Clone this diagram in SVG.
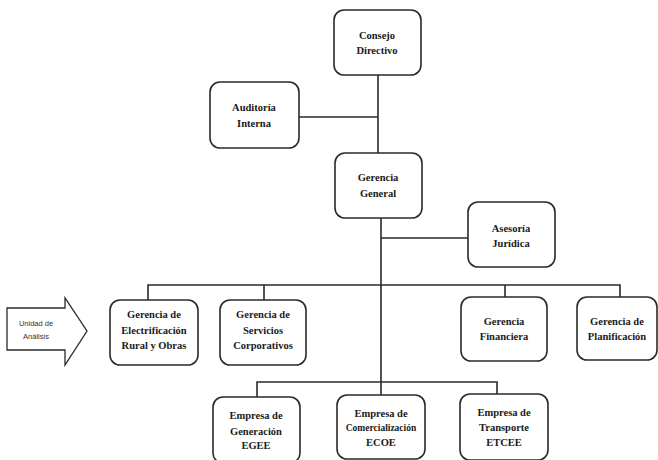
<svg xmlns="http://www.w3.org/2000/svg" width="658" height="460" viewBox="0 0 658 460">
<style>
.box{fill:#fff;stroke:#2a2a2a;stroke-width:1.6}
.ln{fill:none;stroke:#2a2a2a;stroke-width:1.6}
.t{font-family:'Liberation Serif','Times New Roman','DejaVu Serif',serif;font-size:10.5px;font-weight:bold;fill:#1a1a1a;text-anchor:middle}
.s{font-family:'Liberation Sans',Arial,sans-serif;font-size:7.5px;fill:#333;text-anchor:middle}
</style>
<rect width="658" height="460" fill="#fff"/>
<g id="connectors">
<path class="ln" d="M378 75V153M299 117H378"/>
<path class="ln" d="M381 218V382M381 238H468"/>
<path class="ln" d="M148 300V285H620V297M264 285V300M505 285V297"/>
<path class="ln" d="M257 397V382H497V394M381 382V395"/>
</g>
<g id="consejo"><rect class="box" x="334" y="10" width="87" height="65" rx="10"/>
<text class="t" x="377" y="39">Consejo</text><text class="t" x="377" y="54">Directivo</text></g>
<g id="auditoria"><rect class="box" x="210" y="82" width="89" height="66" rx="10"/>
<text class="t" x="254" y="111">Auditoría</text><text class="t" x="254" y="127">Interna</text></g>
<g id="gerencia-general"><rect class="box" x="335" y="153" width="87" height="65" rx="10"/>
<text class="t" x="378" y="181">Gerencia</text><text class="t" x="378" y="197">General</text></g>
<g id="asesoria"><rect class="box" x="468" y="202" width="87" height="65" rx="10"/>
<text class="t" x="511" y="232">Asesoría</text><text class="t" x="511" y="247">Jurídica</text></g>
<g id="electrificacion"><rect class="box" x="110" y="300" width="88" height="65" rx="10"/>
<text class="t" x="154" y="318">Gerencia de</text><text class="t" x="154" y="334">Electrificación</text><text class="t" x="154" y="349">Rural y Obras</text></g>
<g id="servicios"><rect class="box" x="220" y="300" width="86" height="65" rx="10"/>
<text class="t" x="263" y="318">Gerencia de</text><text class="t" x="263" y="334">Servicios</text><text class="t" x="263" y="349">Corporativos</text></g>
<g id="financiera"><rect class="box" x="461" y="297" width="86" height="64" rx="10"/>
<text class="t" x="504" y="325">Gerencia</text><text class="t" x="504" y="340">Financiera</text></g>
<g id="planificacion"><rect class="box" x="577" y="297" width="80" height="63" rx="10"/>
<text class="t" x="617" y="325">Gerencia de</text><text class="t" x="617" y="340">Planificación</text></g>
<g id="egee"><rect class="box" x="213" y="397" width="87" height="66" rx="10"/>
<text class="t" x="256" y="419">Empresa de</text><text class="t" x="256" y="435">Generación</text><text class="t" x="256" y="449">EGEE</text></g>
<g id="ecoe"><rect class="box" x="337" y="395" width="88" height="64" rx="10"/>
<text class="t" x="381" y="417">Empresa de</text><text class="t" x="381" y="431" style="font-size:9.5px">Comercialización</text><text class="t" x="381" y="446">ECOE</text></g>
<g id="etcee"><rect class="box" x="460" y="394" width="88" height="66" rx="10"/>
<text class="t" x="504" y="416">Empresa de</text><text class="t" x="504" y="431">Transporte</text><text class="t" x="504" y="446">ETCEE</text></g>
<g id="unidad"><path class="box" d="M7 308H65V298L87 331L65 365V350H7Z" style="stroke-width:1.3"/>
<text class="s" x="36" y="326">Unidad de</text><text class="s" x="36" y="339">Análisis</text></g>
</svg>
